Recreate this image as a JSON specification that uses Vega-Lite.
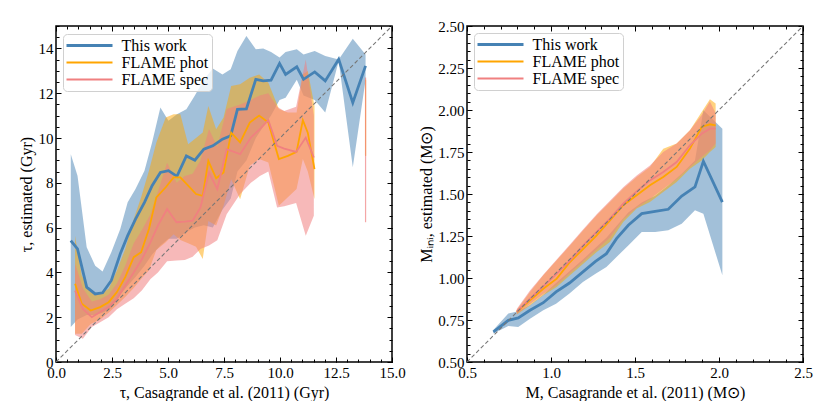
{
  "$schema": "https://vega.github.io/schema/vega-lite/v6.json",
  "padding": {"left": 17, "top": 18, "right": 0, "bottom": 0},
  "bounds": "flush",
  "spacing": 75,
  "config": {
    "view": {"stroke": "black", "strokeWidth": 1.5},
    "axis": {"domain": false, "grid": false, "tickColor": "black", "tickWidth": 1, "labelFont": "Liberation Serif", "labelFontSize": 15, "labelColor": "black", "titleFont": "Liberation Serif", "titleFontSize": 16, "titleFontWeight": "normal", "titleColor": "black", "labelFlush": false, "labelOverlap": false, "labelBound": false},
    "font": "Liberation Serif"
  },
  "resolve": {"scale": {"color": "independent", "x": "independent", "y": "independent", "stroke": "independent"}, "legend": {"color": "independent"}},
  "datasets": {
    "left": [
      {"s": "This work", "x": 0.66, "y": 5.42, "lo": 1.56, "hi": 9.28},
      {"s": "This work", "x": 0.96, "y": 5.05, "lo": 1.9, "hi": 8.31},
      {"s": "This work", "x": 1.37, "y": 3.34, "lo": 2.1, "hi": 5.12},
      {"s": "This work", "x": 1.75, "y": 3.04, "lo": 2.1, "hi": 4.3},
      {"s": "This work", "x": 2.08, "y": 3.09, "lo": 2.2, "hi": 4.04},
      {"s": "This work", "x": 2.47, "y": 3.64, "lo": 2.4, "hi": 4.9},
      {"s": "This work", "x": 2.87, "y": 4.83, "lo": 3.0, "hi": 5.94},
      {"s": "This work", "x": 3.2, "y": 5.64, "lo": 3.4, "hi": 7.13},
      {"s": "This work", "x": 3.55, "y": 6.38, "lo": 3.8, "hi": 7.72},
      {"s": "This work", "x": 3.95, "y": 7.13, "lo": 4.3, "hi": 8.54},
      {"s": "This work", "x": 4.29, "y": 7.87, "lo": 4.8, "hi": 9.8},
      {"s": "This work", "x": 4.66, "y": 8.46, "lo": 5.2, "hi": 11.36},
      {"s": "This work", "x": 5.02, "y": 8.54, "lo": 5.5, "hi": 10.77},
      {"s": "This work", "x": 5.4, "y": 8.29, "lo": 5.5, "hi": 11.06},
      {"s": "This work", "x": 5.82, "y": 9.2, "lo": 5.8, "hi": 11.28},
      {"s": "This work", "x": 6.2, "y": 9.01, "lo": 6.0, "hi": 11.9},
      {"s": "This work", "x": 6.6, "y": 9.5, "lo": 6.1, "hi": 12.6},
      {"s": "This work", "x": 7.0, "y": 9.65, "lo": 6.0, "hi": 13.1},
      {"s": "This work", "x": 7.43, "y": 9.95, "lo": 6.8, "hi": 12.84},
      {"s": "This work", "x": 7.8, "y": 10.1, "lo": 7.3, "hi": 13.07},
      {"s": "This work", "x": 8.1, "y": 11.28, "lo": 8.5, "hi": 13.88},
      {"s": "This work", "x": 8.5, "y": 11.3, "lo": 9.0, "hi": 14.55},
      {"s": "This work", "x": 8.92, "y": 12.62, "lo": 10.0, "hi": 13.96},
      {"s": "This work", "x": 9.25, "y": 12.55, "lo": 10.5, "hi": 13.99},
      {"s": "This work", "x": 9.6, "y": 12.58, "lo": 11.0, "hi": 13.84},
      {"s": "This work", "x": 9.98, "y": 13.33, "lo": 11.7, "hi": 13.59},
      {"s": "This work", "x": 10.25, "y": 12.84, "lo": 11.8, "hi": 13.84},
      {"s": "This work", "x": 10.75, "y": 13.18, "lo": 12.6, "hi": 13.96},
      {"s": "This work", "x": 11.05, "y": 12.62, "lo": 11.9, "hi": 13.73},
      {"s": "This work", "x": 11.55, "y": 12.95, "lo": 11.7, "hi": 13.88},
      {"s": "This work", "x": 12.02, "y": 12.55, "lo": 11.14, "hi": 13.66},
      {"s": "This work", "x": 12.62, "y": 13.51, "lo": 13.44, "hi": 13.51},
      {"s": "This work", "x": 13.25, "y": 11.58, "lo": 8.69, "hi": 14.43},
      {"s": "This work", "x": 13.82, "y": 13.22, "lo": 12.6, "hi": 13.73},
      {"s": "FLAME phot", "x": 0.85, "y": 3.49, "lo": 1.26, "hi": 5.64},
      {"s": "FLAME phot", "x": 1.15, "y": 2.6, "lo": 1.26, "hi": 3.86},
      {"s": "FLAME phot", "x": 1.55, "y": 2.3, "lo": 1.7, "hi": 3.12},
      {"s": "FLAME phot", "x": 1.97, "y": 2.45, "lo": 1.9, "hi": 3.04},
      {"s": "FLAME phot", "x": 2.35, "y": 2.67, "lo": 2.2, "hi": 3.27},
      {"s": "FLAME phot", "x": 2.72, "y": 3.12, "lo": 2.55, "hi": 4.08},
      {"s": "FLAME phot", "x": 3.09, "y": 3.79, "lo": 2.9, "hi": 5.05},
      {"s": "FLAME phot", "x": 3.47, "y": 4.68, "lo": 3.3, "hi": 6.38},
      {"s": "FLAME phot", "x": 3.8, "y": 4.9, "lo": 3.7, "hi": 7.35},
      {"s": "FLAME phot", "x": 4.15, "y": 5.94, "lo": 4.1, "hi": 8.54},
      {"s": "FLAME phot", "x": 4.48, "y": 7.35, "lo": 5.0, "hi": 9.8},
      {"s": "FLAME phot", "x": 4.9, "y": 7.8, "lo": 5.35, "hi": 10.91},
      {"s": "FLAME phot", "x": 5.25, "y": 8.24, "lo": 5.7, "hi": 11.06},
      {"s": "FLAME phot", "x": 5.55, "y": 8.24, "lo": 5.45, "hi": 11.06},
      {"s": "FLAME phot", "x": 5.9, "y": 7.87, "lo": 5.3, "hi": 9.72},
      {"s": "FLAME phot", "x": 6.25, "y": 7.5, "lo": 5.15, "hi": 10.0},
      {"s": "FLAME phot", "x": 6.55, "y": 7.42, "lo": 4.6, "hi": 10.24},
      {"s": "FLAME phot", "x": 6.8, "y": 8.98, "lo": 6.3, "hi": 11.43},
      {"s": "FLAME phot", "x": 7.15, "y": 8.2, "lo": 6.09, "hi": 10.39},
      {"s": "FLAME phot", "x": 7.48, "y": 8.46, "lo": 6.98, "hi": 10.91},
      {"s": "FLAME phot", "x": 7.82, "y": 10.24, "lo": 8.16, "hi": 12.32},
      {"s": "FLAME phot", "x": 8.22, "y": 9.8, "lo": 7.27, "hi": 12.4},
      {"s": "FLAME phot", "x": 8.65, "y": 10.69, "lo": 8.76, "hi": 12.69},
      {"s": "FLAME phot", "x": 9.07, "y": 11.0, "lo": 9.06, "hi": 12.84},
      {"s": "FLAME phot", "x": 9.48, "y": 10.69, "lo": 8.91, "hi": 12.47},
      {"s": "FLAME phot", "x": 9.95, "y": 9.06, "lo": 6.98, "hi": 11.3},
      {"s": "FLAME phot", "x": 10.35, "y": 9.2, "lo": 7.35, "hi": 11.14},
      {"s": "FLAME phot", "x": 10.74, "y": 9.38, "lo": 7.72, "hi": 11.14},
      {"s": "FLAME phot", "x": 11.02, "y": 10.8, "lo": 9.06, "hi": 12.84},
      {"s": "FLAME phot", "x": 11.24, "y": 10.24, "lo": 8.5, "hi": 12.99},
      {"s": "FLAME phot", "x": 11.54, "y": 8.61, "lo": 7.27, "hi": 11.43},
      {"s": "FLAME spec", "x": 0.85, "y": 3.19, "lo": 1.2, "hi": 4.4},
      {"s": "FLAME spec", "x": 1.2, "y": 2.37, "lo": 1.04, "hi": 3.3},
      {"s": "FLAME spec", "x": 1.6, "y": 2.0, "lo": 1.56, "hi": 2.7},
      {"s": "FLAME spec", "x": 1.97, "y": 2.23, "lo": 1.78, "hi": 2.8},
      {"s": "FLAME spec", "x": 2.35, "y": 2.45, "lo": 2.0, "hi": 3.0},
      {"s": "FLAME spec", "x": 2.72, "y": 2.82, "lo": 2.35, "hi": 3.5},
      {"s": "FLAME spec", "x": 3.09, "y": 3.42, "lo": 2.6, "hi": 4.3},
      {"s": "FLAME spec", "x": 3.47, "y": 4.0, "lo": 2.85, "hi": 5.3},
      {"s": "FLAME spec", "x": 3.84, "y": 4.6, "lo": 3.2, "hi": 5.9},
      {"s": "FLAME spec", "x": 4.22, "y": 5.35, "lo": 3.7, "hi": 6.6},
      {"s": "FLAME spec", "x": 4.55, "y": 6.09, "lo": 4.0, "hi": 7.6},
      {"s": "FLAME spec", "x": 4.96, "y": 6.83, "lo": 4.5, "hi": 8.9},
      {"s": "FLAME spec", "x": 5.38, "y": 6.24, "lo": 4.53, "hi": 8.0},
      {"s": "FLAME spec", "x": 5.75, "y": 6.27, "lo": 4.55, "hi": 8.3},
      {"s": "FLAME spec", "x": 6.1, "y": 6.31, "lo": 4.7, "hi": 8.4},
      {"s": "FLAME spec", "x": 6.45, "y": 6.9, "lo": 5.05, "hi": 9.0},
      {"s": "FLAME spec", "x": 6.83, "y": 8.46, "lo": 5.2, "hi": 10.4},
      {"s": "FLAME spec", "x": 7.2, "y": 7.72, "lo": 5.43, "hi": 9.6},
      {"s": "FLAME spec", "x": 7.62, "y": 9.5, "lo": 6.6, "hi": 11.3},
      {"s": "FLAME spec", "x": 8.22, "y": 9.28, "lo": 7.5, "hi": 11.5},
      {"s": "FLAME spec", "x": 8.7, "y": 10.02, "lo": 8.0, "hi": 11.7},
      {"s": "FLAME spec", "x": 9.1, "y": 10.4, "lo": 8.3, "hi": 11.9},
      {"s": "FLAME spec", "x": 9.48, "y": 10.8, "lo": 8.5, "hi": 12.0},
      {"s": "FLAME spec", "x": 9.87, "y": 9.65, "lo": 6.9, "hi": 11.4},
      {"s": "FLAME spec", "x": 10.19, "y": 9.53, "lo": 6.95, "hi": 11.2},
      {"s": "FLAME spec", "x": 10.72, "y": 9.38, "lo": 7.1, "hi": 11.4},
      {"s": "FLAME spec", "x": 11.15, "y": 10.02, "lo": 5.64, "hi": 13.5},
      {"s": "FLAME spec", "x": 11.51, "y": 9.13, "lo": 6.53, "hi": 11.0}
    ],
    "leftRule": [
      {"s": "FLAME phot", "x": 13.82, "lo": 9.2, "hi": 12.6},
      {"s": "FLAME spec", "x": 13.82, "lo": 6.24, "hi": 12.7}
    ],
    "right": [
      {"s": "This work", "x": 0.657, "y": 0.679, "lo": 0.67, "hi": 0.69},
      {"s": "This work", "x": 0.746, "y": 0.748, "lo": 0.714, "hi": 0.788},
      {"s": "This work", "x": 0.805, "y": 0.762, "lo": 0.708, "hi": 0.802},
      {"s": "This work", "x": 0.875, "y": 0.808, "lo": 0.758, "hi": 0.84},
      {"s": "This work", "x": 0.954, "y": 0.853, "lo": 0.808, "hi": 0.9},
      {"s": "This work", "x": 1.03, "y": 0.917, "lo": 0.847, "hi": 0.97},
      {"s": "This work", "x": 1.11, "y": 0.97, "lo": 0.907, "hi": 1.04},
      {"s": "This work", "x": 1.19, "y": 1.036, "lo": 0.976, "hi": 1.11},
      {"s": "This work", "x": 1.265, "y": 1.099, "lo": 1.026, "hi": 1.18},
      {"s": "This work", "x": 1.33, "y": 1.145, "lo": 1.065, "hi": 1.24},
      {"s": "This work", "x": 1.39, "y": 1.234, "lo": 1.125, "hi": 1.31},
      {"s": "This work", "x": 1.46, "y": 1.314, "lo": 1.194, "hi": 1.39},
      {"s": "This work", "x": 1.54, "y": 1.383, "lo": 1.274, "hi": 1.45},
      {"s": "This work", "x": 1.62, "y": 1.397, "lo": 1.274, "hi": 1.49},
      {"s": "This work", "x": 1.698, "y": 1.409, "lo": 1.284, "hi": 1.55},
      {"s": "This work", "x": 1.778, "y": 1.488, "lo": 1.323, "hi": 1.62},
      {"s": "This work", "x": 1.857, "y": 1.542, "lo": 1.403, "hi": 1.7},
      {"s": "This work", "x": 1.907, "y": 1.695, "lo": 1.383, "hi": 1.998},
      {"s": "This work", "x": 2.02, "y": 1.452, "lo": 1.016, "hi": 1.889},
      {"s": "FLAME phot", "x": 0.796, "y": 0.798, "lo": 0.782, "hi": 0.81},
      {"s": "FLAME phot", "x": 0.875, "y": 0.867, "lo": 0.837, "hi": 0.917},
      {"s": "FLAME phot", "x": 0.954, "y": 0.936, "lo": 0.897, "hi": 1.016},
      {"s": "FLAME phot", "x": 1.034, "y": 0.996, "lo": 0.946, "hi": 1.105},
      {"s": "FLAME phot", "x": 1.113, "y": 1.095, "lo": 1.016, "hi": 1.194},
      {"s": "FLAME phot", "x": 1.192, "y": 1.174, "lo": 1.085, "hi": 1.284},
      {"s": "FLAME phot", "x": 1.272, "y": 1.254, "lo": 1.155, "hi": 1.373},
      {"s": "FLAME phot", "x": 1.351, "y": 1.343, "lo": 1.214, "hi": 1.452},
      {"s": "FLAME phot", "x": 1.43, "y": 1.433, "lo": 1.333, "hi": 1.532},
      {"s": "FLAME phot", "x": 1.51, "y": 1.492, "lo": 1.413, "hi": 1.601},
      {"s": "FLAME phot", "x": 1.589, "y": 1.552, "lo": 1.452, "hi": 1.661},
      {"s": "FLAME phot", "x": 1.668, "y": 1.601, "lo": 1.512, "hi": 1.77},
      {"s": "FLAME phot", "x": 1.748, "y": 1.661, "lo": 1.571, "hi": 1.8},
      {"s": "FLAME phot", "x": 1.827, "y": 1.77, "lo": 1.651, "hi": 1.879},
      {"s": "FLAME phot", "x": 1.897, "y": 1.899, "lo": 1.7, "hi": 1.988},
      {"s": "FLAME phot", "x": 1.946, "y": 1.915, "lo": 1.75, "hi": 2.064},
      {"s": "FLAME phot", "x": 1.98, "y": 1.909, "lo": 1.78, "hi": 2.038},
      {"s": "FLAME spec", "x": 0.796, "y": 0.8, "lo": 0.785, "hi": 0.815},
      {"s": "FLAME spec", "x": 0.875, "y": 0.877, "lo": 0.845, "hi": 0.925},
      {"s": "FLAME spec", "x": 0.954, "y": 0.95, "lo": 0.905, "hi": 1.02},
      {"s": "FLAME spec", "x": 1.034, "y": 1.026, "lo": 0.96, "hi": 1.11},
      {"s": "FLAME spec", "x": 1.113, "y": 1.105, "lo": 1.03, "hi": 1.2},
      {"s": "FLAME spec", "x": 1.192, "y": 1.194, "lo": 1.1, "hi": 1.29},
      {"s": "FLAME spec", "x": 1.272, "y": 1.274, "lo": 1.17, "hi": 1.38},
      {"s": "FLAME spec", "x": 1.351, "y": 1.353, "lo": 1.24, "hi": 1.46},
      {"s": "FLAME spec", "x": 1.43, "y": 1.443, "lo": 1.35, "hi": 1.54},
      {"s": "FLAME spec", "x": 1.51, "y": 1.516, "lo": 1.42, "hi": 1.61},
      {"s": "FLAME spec", "x": 1.589, "y": 1.581, "lo": 1.47, "hi": 1.67},
      {"s": "FLAME spec", "x": 1.668, "y": 1.631, "lo": 1.53, "hi": 1.75},
      {"s": "FLAME spec", "x": 1.748, "y": 1.69, "lo": 1.59, "hi": 1.8},
      {"s": "FLAME spec", "x": 1.827, "y": 1.79, "lo": 1.66, "hi": 1.88},
      {"s": "FLAME spec", "x": 1.897, "y": 1.859, "lo": 1.72, "hi": 1.97},
      {"s": "FLAME spec", "x": 1.946, "y": 1.889, "lo": 1.76, "hi": 2.05},
      {"s": "FLAME spec", "x": 1.98, "y": 1.889, "lo": 1.8, "hi": 1.98}
    ],
    "diagL": [{"x": 0, "y": 0}, {"x": 15, "y": 15}],
    "diagR": [{"x": 0.5, "y": 0.5}, {"x": 2.5, "y": 2.5}]
  },
  "hconcat": [
    {
      "width": 336,
      "height": 336,
      "resolve": {"axis": {"x": "independent", "y": "independent"}},
      "layer": [
        {
          "data": {"name": "left"},
          "transform": [{"filter": "datum.s === 'This work'"}],
          "mark": {"type": "area", "color": "#4682b4", "opacity": 0.5},
          "encoding": {
            "x": {"field": "x", "type": "quantitative", "scale": {"domain": [0, 15], "nice": false, "zero": false}, "axis": {"orient": "bottom", "values": [0,0.5,1,1.5,2,2.5,3,3.5,4,4.5,5,5.5,6,6.5,7,7.5,8,8.5,9,9.5,10,10.5,11,11.5,12,12.5,13,13.5,14,14.5,15], "labels": false, "tickSize": -3, "title": null}},
            "y": {"field": "lo", "type": "quantitative", "scale": {"domain": [0, 15], "nice": false, "zero": false}, "axis": {"orient": "left", "values": [0,0.5,1,1.5,2,2.5,3,3.5,4,4.5,5,5.5,6,6.5,7,7.5,8,8.5,9,9.5,10,10.5,11,11.5,12,12.5,13,13.5,14,14.5,15], "labels": false, "tickSize": -3, "title": null}},
            "y2": {"field": "hi"}
          }
        },
        {
          "data": {"name": "left"},
          "transform": [{"filter": "datum.s === 'FLAME phot'"}],
          "mark": {"type": "area", "color": "#ffa500", "opacity": 0.5},
          "encoding": {
            "x": {"field": "x", "type": "quantitative", "scale": {"domain": [0, 15], "nice": false, "zero": false}, "axis": {"orient": "top", "values": [0,2.5,5,7.5,10,12.5,15], "labels": false, "tickSize": -5, "title": null}},
            "y": {"field": "lo", "type": "quantitative", "scale": {"domain": [0, 15], "nice": false, "zero": false}, "axis": {"orient": "right", "values": [0,2,4,6,8,10,12,14], "labels": false, "tickSize": -5, "title": null}},
            "y2": {"field": "hi"}
          }
        },
        {
          "data": {"name": "left"},
          "transform": [{"filter": "datum.s === 'FLAME spec'"}],
          "mark": {"type": "area", "color": "#f08080", "opacity": 0.55},
          "encoding": {
            "x": {"field": "x", "type": "quantitative", "scale": {"domain": [0, 15], "nice": false, "zero": false}, "axis": {"orient": "top", "values": [0,0.5,1,1.5,2,2.5,3,3.5,4,4.5,5,5.5,6,6.5,7,7.5,8,8.5,9,9.5,10,10.5,11,11.5,12,12.5,13,13.5,14,14.5,15], "labels": false, "tickSize": -3, "title": null}},
            "y": {"field": "lo", "type": "quantitative", "scale": {"domain": [0, 15], "nice": false, "zero": false}, "axis": {"orient": "right", "values": [0,0.5,1,1.5,2,2.5,3,3.5,4,4.5,5,5.5,6,6.5,7,7.5,8,8.5,9,9.5,10,10.5,11,11.5,12,12.5,13,13.5,14,14.5,15], "labels": false, "tickSize": -3, "title": null}},
            "y2": {"field": "hi"}
          }
        },
        {
          "data": {"name": "leftRule"},
          "mark": {"type": "rule", "strokeWidth": 1.2, "opacity": 0.7},
          "encoding": {
            "x": {"field": "x", "type": "quantitative", "scale": {"domain": [0, 15], "nice": false, "zero": false}, "axis": null},
            "y": {"field": "lo", "type": "quantitative", "scale": {"domain": [0, 15], "nice": false, "zero": false}, "axis": null},
            "y2": {"field": "hi"},
            "stroke": {"field": "s", "type": "nominal", "scale": {"domain": ["FLAME phot", "FLAME spec"], "range": ["#ffa500", "#f08080"]}, "legend": null}
          }
        },
        {
          "data": {"name": "left"},
          "mark": {"type": "line"},
          "encoding": {
            "x": {"field": "x", "type": "quantitative", "scale": {"domain": [0, 15], "nice": false, "zero": false}, "axis": null},
            "y": {"field": "y", "type": "quantitative", "scale": {"domain": [0, 15], "nice": false, "zero": false}, "axis": null},
            "color": {"field": "s", "type": "nominal", "scale": {"domain": ["This work", "FLAME phot", "FLAME spec"], "range": ["#4682b4", "#ffa500", "#f08080"]},
              "legend": {"title": null, "orient": "none", "legendX": 7, "legendY": 8, "labelFont": "Liberation Serif", "labelFontSize": 16, "labelColor": "black", "symbolType": "M-2.3,0H2.3", "symbolSize": 400, "symbolOffset": 15, "labelOffset": 24, "rowPadding": 1, "padding": 3.5, "strokeColor": "#d0d0d0", "fillColor": "rgba(255,255,255,0.8)", "cornerRadius": 4,
                "encode": {"symbols": {"update": {"strokeWidth": {"signal": "datum.value === 'This work' ? 2.8 : 1.8"}}}}}},
            "strokeWidth": {"condition": {"test": "datum.s === 'This work'", "value": 2.8}, "value": 1.8}
          }
        },
        {
          "data": {"name": "diagL"},
          "mark": {"type": "line", "color": "#777777", "strokeWidth": 1.1, "strokeDash": [4, 2.5]},
          "encoding": {
            "x": {"field": "x", "type": "quantitative", "scale": {"domain": [0, 15], "nice": false, "zero": false}, "axis": {"orient": "bottom", "values": [0,2.5,5,7.5,10,12.5,15], "format": ".1f", "tickSize": -5, "labelPadding": 8, "titlePadding": 4, "title": "τ, Casagrande et al. (2011) (Gyr)"}},
            "y": {"field": "y", "type": "quantitative", "scale": {"domain": [0, 15], "nice": false, "zero": false}, "axis": {"orient": "left", "values": [0,2,4,6,8,10,12,14], "format": "d", "tickSize": -5, "labelPadding": 8, "titlePadding": 4, "title": "τ, estimated (Gyr)"}}
          }
        }
      ]
    },
    {
      "width": 336,
      "height": 336,
      "resolve": {"axis": {"x": "independent", "y": "independent"}},
      "layer": [
        {
          "data": {"name": "right"},
          "transform": [{"filter": "datum.s === 'This work'"}],
          "mark": {"type": "area", "color": "#4682b4", "opacity": 0.5},
          "encoding": {
            "x": {"field": "x", "type": "quantitative", "scale": {"domain": [0.5, 2.5], "nice": false, "zero": false}, "axis": {"orient": "bottom", "values": [0.5,0.6,0.7,0.8,0.9,1,1.1,1.2,1.3,1.4,1.5,1.6,1.7,1.8,1.9,2,2.1,2.2,2.3,2.4,2.5], "labels": false, "tickSize": -3, "title": null}},
            "y": {"field": "lo", "type": "quantitative", "scale": {"domain": [0.5, 2.5], "nice": false, "zero": false}, "axis": {"orient": "left", "values": [0.5,0.55,0.6,0.65,0.7,0.75,0.8,0.85,0.9,0.95,1,1.05,1.1,1.15,1.2,1.25,1.3,1.35,1.4,1.45,1.5,1.55,1.6,1.65,1.7,1.75,1.8,1.85,1.9,1.95,2,2.05,2.1,2.15,2.2,2.25,2.3,2.35,2.4,2.45,2.5], "labels": false, "tickSize": -3, "title": null}},
            "y2": {"field": "hi"}
          }
        },
        {
          "data": {"name": "right"},
          "transform": [{"filter": "datum.s === 'FLAME phot'"}],
          "mark": {"type": "area", "color": "#ffa500", "opacity": 0.5},
          "encoding": {
            "x": {"field": "x", "type": "quantitative", "scale": {"domain": [0.5, 2.5], "nice": false, "zero": false}, "axis": {"orient": "top", "values": [0.5,1,1.5,2,2.5], "labels": false, "tickSize": -5, "title": null}},
            "y": {"field": "lo", "type": "quantitative", "scale": {"domain": [0.5, 2.5], "nice": false, "zero": false}, "axis": {"orient": "right", "values": [0.5,0.75,1,1.25,1.5,1.75,2,2.25,2.5], "labels": false, "tickSize": -5, "title": null}},
            "y2": {"field": "hi"}
          }
        },
        {
          "data": {"name": "right"},
          "transform": [{"filter": "datum.s === 'FLAME spec'"}],
          "mark": {"type": "area", "color": "#f08080", "opacity": 0.55},
          "encoding": {
            "x": {"field": "x", "type": "quantitative", "scale": {"domain": [0.5, 2.5], "nice": false, "zero": false}, "axis": {"orient": "top", "values": [0.5,0.6,0.7,0.8,0.9,1,1.1,1.2,1.3,1.4,1.5,1.6,1.7,1.8,1.9,2,2.1,2.2,2.3,2.4,2.5], "labels": false, "tickSize": -3, "title": null}},
            "y": {"field": "lo", "type": "quantitative", "scale": {"domain": [0.5, 2.5], "nice": false, "zero": false}, "axis": {"orient": "right", "values": [0.5,0.55,0.6,0.65,0.7,0.75,0.8,0.85,0.9,0.95,1,1.05,1.1,1.15,1.2,1.25,1.3,1.35,1.4,1.45,1.5,1.55,1.6,1.65,1.7,1.75,1.8,1.85,1.9,1.95,2,2.05,2.1,2.15,2.2,2.25,2.3,2.35,2.4,2.45,2.5], "labels": false, "tickSize": -3, "title": null}},
            "y2": {"field": "hi"}
          }
        },
        {
          "data": {"name": "right"},
          "mark": {"type": "line"},
          "encoding": {
            "x": {"field": "x", "type": "quantitative", "scale": {"domain": [0.5, 2.5], "nice": false, "zero": false}, "axis": null},
            "y": {"field": "y", "type": "quantitative", "scale": {"domain": [0.5, 2.5], "nice": false, "zero": false}, "axis": null},
            "color": {"field": "s", "type": "nominal", "scale": {"domain": ["This work", "FLAME phot", "FLAME spec"], "range": ["#4682b4", "#ffa500", "#f08080"]},
              "legend": {"title": null, "orient": "none", "legendX": 7, "legendY": 7, "labelFont": "Liberation Serif", "labelFontSize": 16, "labelColor": "black", "symbolType": "M-2.3,0H2.3", "symbolSize": 400, "symbolOffset": 15, "labelOffset": 24, "rowPadding": 1, "padding": 3.5, "strokeColor": "#d0d0d0", "fillColor": "rgba(255,255,255,0.8)", "cornerRadius": 4,
                "encode": {"symbols": {"update": {"strokeWidth": {"signal": "datum.value === 'This work' ? 2.8 : 1.8"}}}}}},
            "strokeWidth": {"condition": {"test": "datum.s === 'This work'", "value": 2.8}, "value": 1.8}
          }
        },
        {
          "data": {"name": "diagR"},
          "mark": {"type": "line", "color": "#777777", "strokeWidth": 1.1, "strokeDash": [4, 2.5]},
          "encoding": {
            "x": {"field": "x", "type": "quantitative", "scale": {"domain": [0.5, 2.5], "nice": false, "zero": false}, "axis": {"orient": "bottom", "values": [0.5,1,1.5,2,2.5], "format": ".1f", "tickSize": -5, "labelPadding": 8, "titlePadding": 4, "title": "M, Casagrande et al. (2011) (M⊙)"}},
            "y": {"field": "y", "type": "quantitative", "scale": {"domain": [0.5, 2.5], "nice": false, "zero": false}, "axis": {"orient": "left", "values": [0.5,0.75,1,1.25,1.5,1.75,2,2.25,2.5], "format": ".2f", "tickSize": -5, "labelPadding": 8, "titlePadding": 3, "title": "Mᵢₙᵢ, estimated (M⊙)"}}
          }
        }
      ]
    }
  ]
}
